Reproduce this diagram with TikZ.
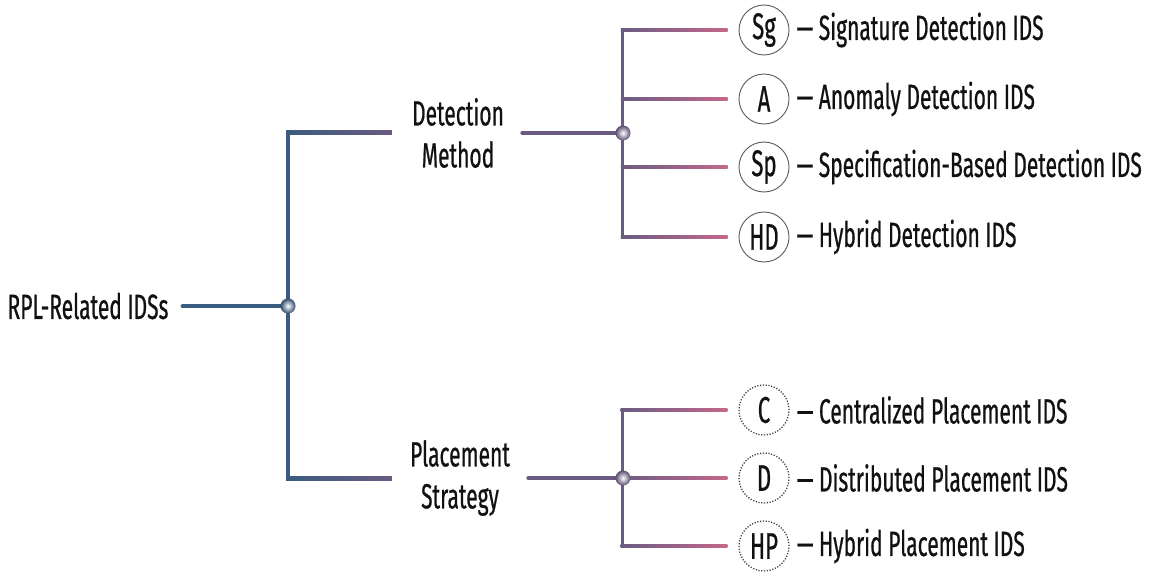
\documentclass[tikz,border=0pt]{standalone}
\usepackage{fontspec}
\setmainfont[FakeStretch=0.6,FakeBold=0.6]{Fira Sans}
\usetikzlibrary{calc}
\definecolor{cblue}{HTML}{3A5C7E}
\definecolor{cpurple}{HTML}{6B5B82}
\definecolor{cpink}{HTML}{C4688C}
\definecolor{ctext}{HTML}{111111}
\newcommand{\gline}[5][3.5]{\shade[left color=#4,right color=#5] ($(#2)+(0,-#1/2)$) rectangle ($(#3)+(0,#1/2)$);}
\begin{document}
\begin{tikzpicture}[x=1pt,y=-1pt,
  txt/.style={font=\fontsize{35}{42}\selectfont, text=ctext, inner sep=0pt},
  cat/.style={txt, align=center},
  circ/.style={circle, draw=black!65, line width=0.9pt, minimum size=50pt, inner sep=0pt, font=\fontsize{37}{42}\selectfont, text=ctext},
  dcirc/.style={circ, draw=black!75, dash pattern=on 1.2pt off 1.6pt, line width=1.3pt},
  lbl/.style={txt, anchor=west},
  solidb/.style={draw=cblue, line width=4pt, line cap=round},
  solidp/.style={draw=cpurple, line width=3.5pt, line cap=round}
]
\useasboundingbox (0,0) rectangle (1153,572);

% nodes
\node[txt] (root) at (88,306) {RPL-Related IDSs};
\node[cat] (det) at (458,133) {Detection\\Method};
\node[cat] (pla) at (460,478) {Placement\\Strategy};

\coordinate (j1) at (288,306);
\coordinate (j1t) at (288,133);
\coordinate (j1b) at (288,478);
\coordinate (j2) at (623,133);
\coordinate (j3) at (623,478);

\node[circ] (sg) at (764,30) {Sg};
\node[circ] (an) at (764,99) {A};
\node[circ] (sp) at (764,167) {Sp};
\node[circ] (hd) at (764,237) {HD};
\node[dcirc] (ce) at (764,410) {C};
\node[dcirc] (di) at (764,478) {D};
\node[dcirc] (hp) at (764,546) {HP};

\node[lbl] at ([xshift=7pt]sg.east) {— Signature Detection IDS};
\node[lbl] at ([xshift=7pt]an.east) {— Anomaly Detection IDS};
\node[lbl] at ([xshift=7pt]sp.east) {— Specification-Based Detection IDS};
\node[lbl] at ([xshift=7pt]hd.east) {— Hybrid Detection IDS};
\node[lbl] at ([xshift=7pt]ce.east) {— Centralized Placement IDS};
\node[lbl] at ([xshift=7pt]di.east) {— Distributed Placement IDS};
\node[lbl] at ([xshift=7pt]hp.east) {— Hybrid Placement IDS};

% root connectors
\draw[solidb] ([xshift=14pt]root.east) -- (j1);
\draw[solidb, line cap=butt] ($(j1t)+(0,-2)$) -- ($(j1b)+(0,2)$);
\gline[4]{$(j1t)+(-2,0)$}{$(det.west)+(-20,0)$}{cblue}{cpurple}
\gline[4]{$(j1b)+(-2,0)$}{$(pla.west)+(-18,0)$}{cblue}{cpurple}

% detection branch
\draw[solidp] ([xshift=18pt]det.east) -- (j2);
\draw[solidp, line cap=butt] ($(sg.west)+(-116,-1.75)$) -- ($(hd.west)+(-116,1.75)$);
\foreach \n in {sg,an,sp,hd}{
  \gline{$(\n.west)+(-117.75,0)$}{$(\n.west)+(-11,0)$}{cpurple}{cpink}
}

% placement branch
\draw[solidp] ([xshift=18pt]pla.east) -- (j3);
\draw[solidp, line cap=butt] ($(ce.west)+(-116,-1.75)$) -- ($(hp.west)+(-116,1.75)$);
\foreach \n in {ce,di,hp}{
  \gline{$(\n.west)+(-117.75,0)$}{$(\n.west)+(-11,0)$}{cpurple}{cpink}
}

% junction dots
\shade[inner color=white, outer color=cblue!85!black] (j1) circle (7.5);
\shade[inner color=white, outer color=cpurple!85!black] (j2) circle (7.5);
\shade[inner color=white, outer color=cpurple!85!black] (j3) circle (7.5);
\end{tikzpicture}
\end{document}
